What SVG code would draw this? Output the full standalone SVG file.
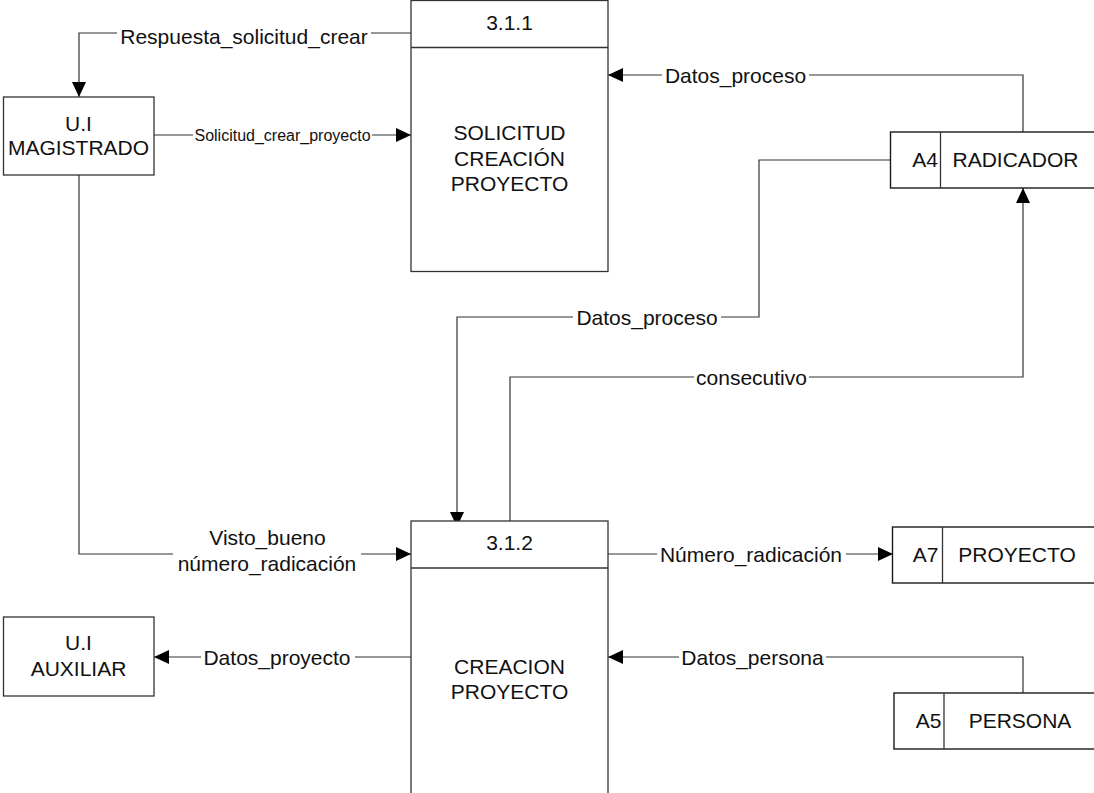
<svg xmlns="http://www.w3.org/2000/svg" width="1094" height="793" viewBox="0 0 1094 793">
  <style>
    .box { fill: #ffffff; stroke: #333333; stroke-width: 1.3; }
    .store { fill: #ffffff; stroke: #1a1a1a; stroke-width: 1.4; }
    .div { stroke: #333333; stroke-width: 1.3; fill: none; }
    .flow { fill: none; stroke: #333333; stroke-width: 1.2; }
    .arrow { marker-end: url(#head); }
    text { font-family: "Liberation Sans", Arial, sans-serif; font-size: 21px; fill: #111111; text-anchor: middle; }
    .small { font-size: 16px; }
  </style>
  <defs>
    <marker id="head" markerUnits="userSpaceOnUse" markerWidth="16" markerHeight="14" refX="15" refY="7" orient="auto">
      <path d="M0,0 L15,7 L0,14 Z" fill="#000000"/>
    </marker>
  </defs>

  <rect x="0" y="0" width="1094" height="793" fill="#ffffff"/>

  <!-- connectors -->
  <g id="connectors">
    <!-- Respuesta_solicitud_crear : 3.1.1 -> U.I MAGISTRADO -->
    <path class="flow" d="M411,33 H371"/>
    <path class="flow arrow" d="M117,33 H79 V97"/>
    <text x="244" y="44">Respuesta_solicitud_crear</text>

    <!-- Solicitud_crear_proyecto : U.I MAGISTRADO -> 3.1.1 -->
    <path class="flow" d="M154,135 H193"/>
    <path class="flow arrow" d="M372,135 H411"/>
    <text class="small" x="282.5" y="140.5">Solicitud_crear_proyecto</text>

    <!-- Datos_proceso : RADICADOR -> 3.1.1 -->
    <path class="flow" d="M1023,132 V75 H809"/>
    <path class="flow arrow" d="M662,75 H608"/>
    <text x="735.5" y="82.5">Datos_proceso</text>

    <!-- Datos_proceso : RADICADOR -> 3.1.2 -->
    <path class="flow" d="M890,160 H759 V317 H721"/>
    <path class="flow arrow" d="M573,317 H457 V527"/>
    <text x="647" y="324.5">Datos_proceso</text>

    <!-- consecutivo : 3.1.2 -> RADICADOR -->
    <path class="flow" d="M510,521 V377 H694"/>
    <path class="flow arrow" d="M809,377 H1023 V188"/>
    <text x="751.5" y="384.5">consecutivo</text>

    <!-- Visto_bueno número_radicación : U.I MAGISTRADO -> 3.1.2 -->
    <path class="flow" d="M79,175 V554 H173"/>
    <path class="flow arrow" d="M361,554 H411"/>
    <text x="267.5" y="545">Visto_bueno</text>
    <text x="267" y="571">número_radicación</text>

    <!-- Número_radicación : 3.1.2 -> PROYECTO -->
    <path class="flow" d="M608,554 H657"/>
    <path class="flow arrow" d="M846,554 H893"/>
    <text x="751" y="561.5">Número_radicación</text>

    <!-- Datos_proyecto : 3.1.2 -> U.I AUXILIAR -->
    <path class="flow" d="M411,657 H355"/>
    <path class="flow arrow" d="M201,657 H154"/>
    <text x="277" y="664.5">Datos_proyecto</text>

    <!-- Datos_persona : PERSONA -> 3.1.2 -->
    <path class="flow" d="M1023,693 V657 H826"/>
    <path class="flow arrow" d="M679,657 H608"/>
    <text x="752.5" y="664.5">Datos_persona</text>
  </g>

  <!-- external entities -->
  <g id="ui-magistrado">
    <rect class="box" x="3.5" y="97" width="150.5" height="78"/>
    <text x="78.5" y="131">U.I</text>
    <text x="78.5" y="155">MAGISTRADO</text>
  </g>

  <g id="ui-auxiliar">
    <rect class="box" x="3.5" y="617" width="150.5" height="79"/>
    <text x="78.5" y="650">U.I</text>
    <text x="78.5" y="676">AUXILIAR</text>
  </g>

  <!-- processes -->
  <g id="proceso-3-1-1">
    <rect class="box" x="411" y="0.5" width="197" height="271"/>
    <path class="div" d="M411,47.5 H608"/>
    <text x="509.5" y="30">3.1.1</text>
    <text x="509.5" y="140">SOLICITUD</text>
    <text x="509.5" y="166">CREACIÓN</text>
    <text x="509.5" y="191">PROYECTO</text>
  </g>

  <g id="proceso-3-1-2">
    <rect class="box" x="411" y="521" width="197" height="290"/>
    <path class="div" d="M411,568 H608"/>
    <text x="509.5" y="550">3.1.2</text>
    <text x="509.5" y="674">CREACION</text>
    <text x="509.5" y="699">PROYECTO</text>
  </g>

  <!-- data stores (open on the right) -->
  <g id="store-a4-radicador">
    <rect class="store" x="890.5" y="132" width="220" height="56"/>
    <path class="div" d="M940.5,132 V188"/>
    <text x="925" y="167">A4</text>
    <text x="1015.5" y="167">RADICADOR</text>
  </g>

  <g id="store-a7-proyecto">
    <rect class="store" x="892.5" y="527" width="220" height="56"/>
    <path class="div" d="M942.5,527 V583"/>
    <text x="925.5" y="562">A7</text>
    <text x="1017" y="562">PROYECTO</text>
  </g>

  <g id="store-a5-persona">
    <rect class="store" x="894" y="693" width="220" height="56"/>
    <path class="div" d="M944,693 V749"/>
    <text x="928.5" y="728">A5</text>
    <text x="1020" y="728">PERSONA</text>
  </g>
</svg>
